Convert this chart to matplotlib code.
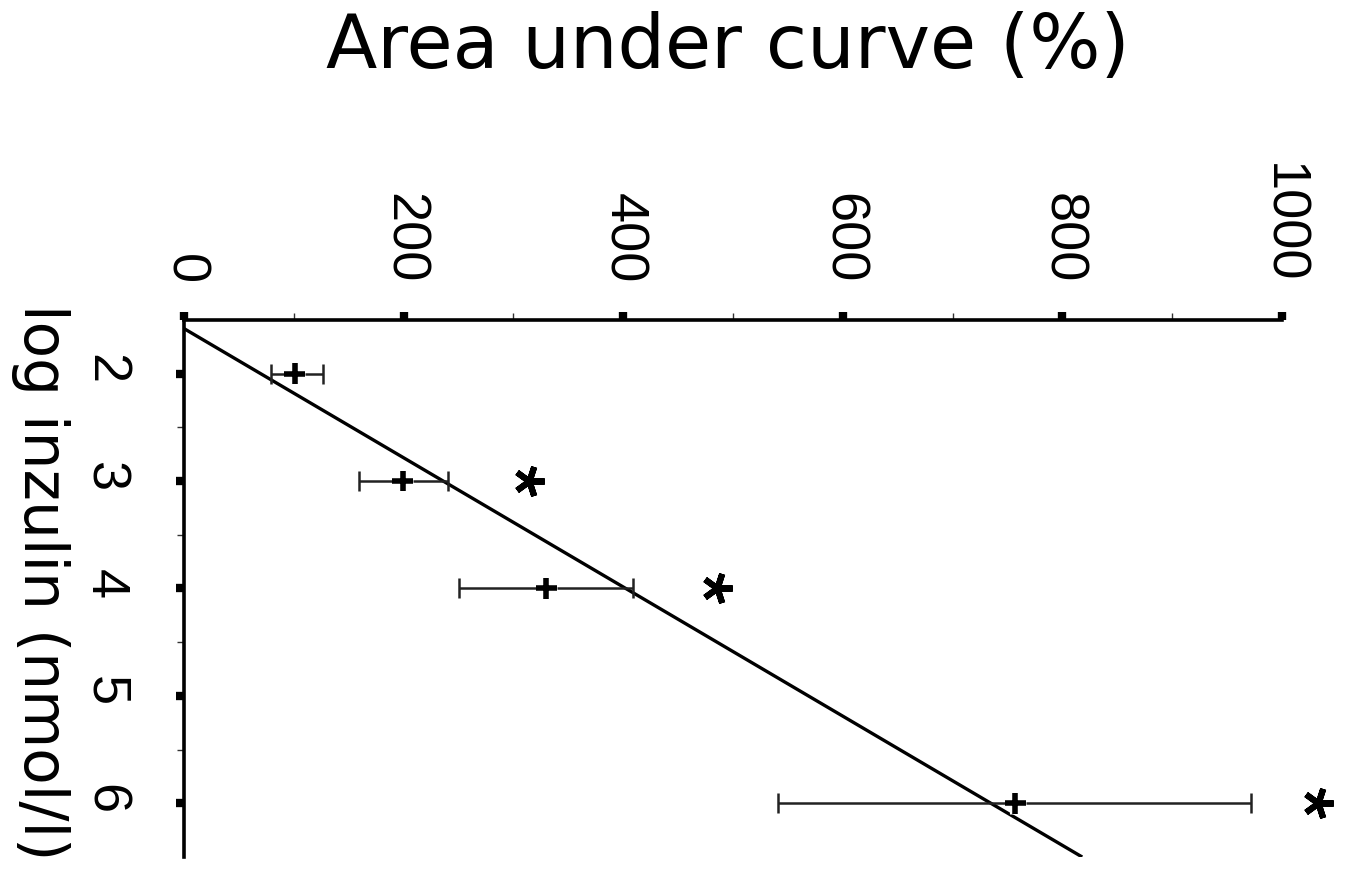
import matplotlib
matplotlib.use("Agg")
import matplotlib.pyplot as plt
import matplotlib.patheffects as pe
import numpy as np

plt.rcParams['font.family'] = ['Liberation Sans', 'DejaVu Sans']

# measured points: log insulin dose vs. area under curve (%)
log_ins = [2, 3, 4, 6]
auc = [101, 199, 330, 757]
auc_lo = [79, 159, 250, 541]
auc_hi = [127, 240, 409, 972]

# doses marked as significant and where the star sits
sig_log = [3, 4, 6]
sig_auc = [314, 485, 1033]

# regression line end points
fit_log = [1.58, 6.5]
fit_auc = [0, 818]

area_ticks = [0, 200, 400, 600, 800, 1000]
log_ticks = [2, 3, 4, 5, 6]

fig = plt.figure(figsize=(13.45, 8.69), dpi=100)
ax = fig.add_axes([0.1368, 0.0138, 0.8164, 0.618])

ax.set_xlim(0, 1000)
ax.set_ylim(6.5, 1.5)

for s in ['right', 'bottom']:
    ax.spines[s].set_visible(False)
for s in ['left', 'top']:
    ax.spines[s].set_linewidth(2.6)

ax.xaxis.tick_top()
ax.set_xticks(area_ticks)
ax.set_xticks(np.arange(100, 1000, 200), minor=True)
ax.set_xticklabels([str(t) for t in area_ticks], rotation=-90)
ax.set_yticks(log_ticks)
ax.set_yticks(np.arange(2.5, 6.5, 1), minor=True)
ax.set_yticklabels([str(t) for t in log_ticks], rotation=-90)

ax.tick_params(axis='both', which='major', direction='out', length=6,
               width=6, labelsize=39, color='black')
ax.tick_params(axis='both', which='minor', direction='out', length=5,
               width=1.0, color='#333333')
ax.tick_params(axis='x', which='major', pad=20)
ax.tick_params(axis='y', which='major', pad=33)

ax.plot(fit_auc, fit_log, color='black', lw=2.4, solid_capstyle='butt')

err = [np.array(auc) - np.array(auc_lo), np.array(auc_hi) - np.array(auc)]
ax.errorbar(auc, log_ins, xerr=err, fmt='none', ecolor='#222222',
            elinewidth=1.8, capsize=7, capthick=1.8)
ax.plot(auc, log_ins, linestyle='none', marker='+', markersize=15,
        markeredgewidth=4, color='black',
        path_effects=[pe.withStroke(linewidth=8, foreground='white')])

# significance stars, five-armed and turned on their side
ax.plot(sig_auc, sig_log, linestyle='none', marker=(5, 2, -90),
        markersize=22, markeredgewidth=4.4, color='black', clip_on=False)

fig.text(0.5413, 0.9217, 'Area under curve (%)', fontsize=54,
         family='DejaVu Sans', ha='center', va='baseline')
fig.text(0.030, 0.3303, 'log inzulin (nmol/l)', fontsize=43,
         family='DejaVu Sans', rotation=-90, ha='center', va='center')

fig.savefig('out.png', dpi=100, facecolor='white')
